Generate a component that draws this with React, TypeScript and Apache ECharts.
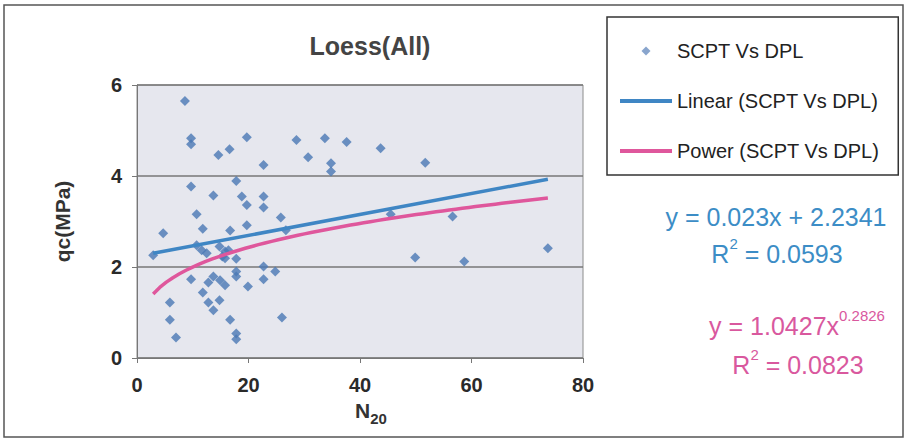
import React, { useEffect, useRef } from "react";
import * as echarts from "echarts";

const TITLE = "Loess(All)";
const SERIES_NAMES = ["SCPT Vs DPL", "Linear (SCPT Vs DPL)", "Power (SCPT Vs DPL)"];
const X_TICKS = [0, 20, 40, 60, 80];
const Y_TICKS = [0, 2, 4, 6];

const n20 = [
  2.9, 4.7, 5.9, 5.9, 7.0, 8.6, 9.7, 9.7, 9.7, 9.7, 10.7, 10.7, 11.6, 11.8, 11.8, 12.5,
  12.8, 12.8, 13.7, 13.7, 13.7, 14.6, 14.8, 14.9, 14.8, 15.3, 15.8, 15.8, 16.4, 16.6,
  16.7, 16.7, 17.8, 17.8, 17.8, 17.8, 17.8, 17.8, 18.8, 19.7, 19.7, 19.7, 19.9, 22.7,
  22.7, 22.7, 22.7, 22.7, 24.8, 25.8, 26.0, 26.7, 28.6, 30.7, 33.7, 34.8, 34.8, 37.6,
  43.7, 45.5, 49.9, 51.7, 56.6, 58.7, 73.7, 15.8,
];
const qc = [
  2.26, 2.74, 1.22, 0.84, 0.45, 5.65, 4.83, 4.7, 3.77, 1.73, 3.16, 2.48, 2.37, 2.84, 1.44, 2.3,
  1.66, 1.22, 3.57, 1.79, 1.05, 4.46, 2.45, 1.71, 1.27, 2.23, 2.34, 1.6, 2.37, 4.59,
  2.8, 0.84, 3.89, 2.18, 1.9, 1.79, 0.54, 0.41, 3.55, 4.85, 3.36, 2.92, 1.57, 4.24,
  3.55, 3.31, 2.01, 1.73, 1.9, 3.09, 0.89, 2.81, 4.79, 4.41, 4.83, 4.28, 4.1, 4.75,
  4.61, 3.16, 2.21, 4.29, 3.11, 2.12, 2.41, 2.19,
];

// Trendline coefficients as printed on the chart
const LINEAR_SLOPE = 0.023;
const LINEAR_INTERCEPT = 2.2341;
const POWER_COEF = 1.0427;
const POWER_EXP = 0.2826;
const EQ_LINEAR = ["y = 0.023x + 2.2341", "0.0593"];
const EQ_POWER = ["y = 1.0427x", "0.2826", "0.0823"];

const FONT = "'Liberation Sans', Arial, sans-serif";
const MARKER = "#4a78b4";
const LEGEND_MARKER = "#6b8fc0";
const BLUE_LINE = "#3f86c4";
const PINK_LINE = "#df579c";
const BLUE_TEXT = "#3c8dc6";
const PINK_TEXT = "#d9589e";
const LINE_ICON = "path://M0,0 L52,0 L52,4 L0,4 Z";
const DIAMOND_ICON = "path://M5,0 L10,5 L5,10 L0,5 Z";

export default function App() {
  const ref = useRef<HTMLDivElement>(null);
  useEffect(() => {
    document.body.style.margin = "0";
    const chart = echarts.init(ref.current!, undefined, { renderer: "svg" });
    const xMin = Math.min(...n20);
    const xMax = Math.max(...n20);
    const linear = [
      [xMin, LINEAR_SLOPE * xMin + LINEAR_INTERCEPT],
      [xMax, LINEAR_SLOPE * xMax + LINEAR_INTERCEPT],
    ];
    const power: number[][] = [];
    const steps = 60;
    for (let i = 0; i <= steps; i++) {
      const x = xMin + ((xMax - xMin) * i) / steps;
      power.push([x, POWER_COEF * Math.pow(x, POWER_EXP)]);
    }
    const points = n20.map((x, i) => [x, qc[i]]);

    const supRich = (color: string) => ({
      m: { fontFamily: FONT, fontSize: 25, fill: color, verticalAlign: "bottom", lineHeight: 30 },
      s: { fontFamily: FONT, fontSize: 15, fill: color, verticalAlign: "top", lineHeight: 30, padding: [0, 0, 16, 0] },
    });

    chart.setOption({
      animation: false,
      backgroundColor: "#ffffff",
      textStyle: { fontFamily: FONT },
      title: {
        text: TITLE,
        left: 365,
        top: 28,
        textAlign: "center",
        textStyle: { fontFamily: FONT, fontWeight: "bold", fontSize: 25, color: "#444" },
      },
      grid: {
        left: 137,
        top: 85,
        width: 446,
        height: 273,
        show: true,
        backgroundColor: "#e6e7ee",
        borderColor: "#8c8c8c",
        borderWidth: 1,
      },
      legend: {
        orient: "vertical",
        left: 607,
        top: 17,
        padding: [24, 19, 14, 13],
        itemWidth: 52,
        itemHeight: 9,
        itemGap: 30,
        symbolKeepAspect: true,
        borderColor: "#333",
        borderWidth: 1.5,
        backgroundColor: "#fff",
        textStyle: { fontFamily: FONT, fontSize: 20, color: "#222" },
        data: [
          { name: SERIES_NAMES[0], icon: DIAMOND_ICON, itemStyle: { color: LEGEND_MARKER } },
          { name: SERIES_NAMES[1], icon: LINE_ICON, itemStyle: { color: BLUE_LINE } },
          { name: SERIES_NAMES[2], icon: LINE_ICON, itemStyle: { color: PINK_LINE } },
        ],
      },
      xAxis: {
        type: "value",
        min: X_TICKS[0],
        max: X_TICKS[X_TICKS.length - 1],
        interval: 20,
        name: "{a|N}{b|20}",
        nameLocation: "middle",
        nameGap: 40,
        nameTextStyle: {
          padding: [0, 0, 0, 22],
          rich: {
            a: { fontFamily: FONT, fontSize: 21, fontWeight: "bold", color: "#333", verticalAlign: "top", lineHeight: 26 },
            b: { fontFamily: FONT, fontSize: 15, fontWeight: "bold", color: "#333", verticalAlign: "bottom", lineHeight: 26, padding: [10, 0, 0, 0] },
          },
        },
        axisLine: { lineStyle: { color: "#777", width: 1 } },
        axisTick: { show: true, length: 5, lineStyle: { color: "#777" } },
        axisLabel: { margin: 17, fontFamily: FONT, fontSize: 20, fontWeight: "bold", color: "#2a2a2a" },
        splitLine: { show: false },
      },
      yAxis: {
        type: "value",
        min: Y_TICKS[0],
        max: Y_TICKS[Y_TICKS.length - 1],
        interval: 2,
        name: "qc(MPa)",
        nameLocation: "middle",
        nameGap: 64,
        nameTextStyle: { fontFamily: FONT, fontSize: 21, fontWeight: "bold", color: "#333" },
        axisLine: { show: true, lineStyle: { color: "#777", width: 1 } },
        axisTick: { show: true, length: 5, lineStyle: { color: "#777" } },
        axisLabel: { margin: 15, fontFamily: FONT, fontSize: 20, fontWeight: "bold", color: "#2a2a2a" },
        splitLine: { show: true, lineStyle: { color: "#777", width: 1.5 } },
      },
      series: [
        {
          name: SERIES_NAMES[0],
          type: "scatter",
          symbol: "diamond",
          symbolSize: 10,
          itemStyle: { color: MARKER },
          data: points,
          z: 3,
        },
        {
          name: SERIES_NAMES[1],
          type: "line",
          symbol: "none",
          showSymbol: false,
          lineStyle: { color: BLUE_LINE, width: 3.5 },
          itemStyle: { color: BLUE_LINE },
          data: linear,
          z: 4,
        },
        {
          name: SERIES_NAMES[2],
          type: "line",
          symbol: "none",
          showSymbol: false,
          lineStyle: { color: PINK_LINE, width: 3.5 },
          itemStyle: { color: PINK_LINE },
          data: power,
          z: 4,
        },
      ],
      graphic: [
        {
          type: "rect",
          shape: { x: 4, y: 5, width: 899, height: 432 },
          style: { fill: "none", stroke: "#555", lineWidth: 1.5 },
          z: -10,
          silent: true,
        },
        {
          type: "text",
          x: 776,
          y: 217,
          style: {
            text: EQ_LINEAR[0],
            fill: BLUE_TEXT,
            font: `25px ${FONT}`,
            align: "center",
            verticalAlign: "middle",
          },
        },
        {
          type: "text",
          x: 777,
          y: 251,
          style: {
            text: `{m|R}{s|2}{m| = ${EQ_LINEAR[1]}}`,
            align: "center",
            verticalAlign: "middle",
            rich: supRich(BLUE_TEXT),
          },
        },
        {
          type: "text",
          x: 797,
          y: 323,
          style: {
            text: `{m|${EQ_POWER[0]}}{s|${EQ_POWER[1]}}`,
            align: "center",
            verticalAlign: "middle",
            rich: supRich(PINK_TEXT),
          },
        },
        {
          type: "text",
          x: 798,
          y: 362,
          style: {
            text: `{m|R}{s|2}{m| = ${EQ_POWER[2]}}`,
            align: "center",
            verticalAlign: "middle",
            rich: supRich(PINK_TEXT),
          },
        },
      ],
    });
    return () => chart.dispose();
  }, []);
  return <div ref={ref} style={{ width: 906, height: 447 }} />;
}
